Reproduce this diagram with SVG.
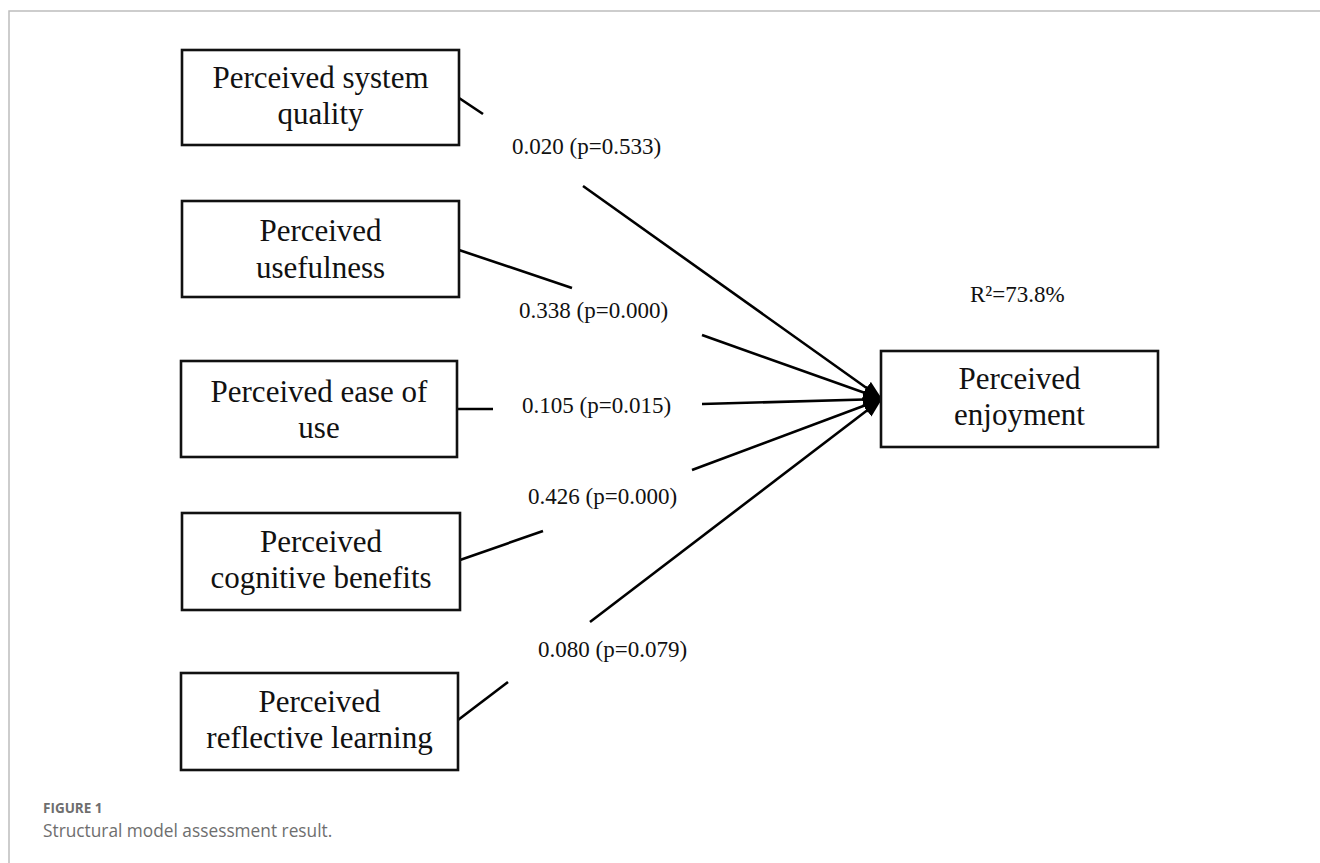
<svg xmlns="http://www.w3.org/2000/svg" width="1320" height="863" viewBox="0 0 1320 863">
<defs>
<marker id="ah" markerUnits="userSpaceOnUse" markerWidth="22" markerHeight="16" refX="19" refY="7.5" orient="auto">
<path d="M0,0 L19,7.5 L0,15 z" fill="#000"/>
</marker>
<style>
.box{fill:#fff;stroke:#111;stroke-width:2.6}
.lbl{font-family:"Liberation Serif","Times New Roman",serif;font-size:31px;fill:#111;text-anchor:middle}
.coef{font-family:"Liberation Serif","Times New Roman",serif;font-size:23px;fill:#111}
.ln{stroke:#000;stroke-width:2.6;fill:none}
.frame{stroke:#bdbdbd;stroke-width:1.5;fill:none}
.cap{font-family:"Open Sans","Liberation Sans",sans-serif;fill:#6e6e6e}
</style>
</defs>
<rect width="1320" height="863" fill="#fff"/>
<path class="frame" d="M9,863 V11 H1320"/>
<g id="connectors">
<line class="ln" x1="459" y1="98" x2="483" y2="114"/>
<line class="ln" x1="583" y1="186" x2="882" y2="399" marker-end="url(#ah)"/>
<line class="ln" x1="459" y1="250" x2="572" y2="288"/>
<line class="ln" x1="702" y1="335" x2="882" y2="399" marker-end="url(#ah)"/>
<line class="ln" x1="457" y1="409" x2="493" y2="409"/>
<line class="ln" x1="702" y1="404" x2="882" y2="399" marker-end="url(#ah)"/>
<line class="ln" x1="460" y1="560" x2="543" y2="531"/>
<line class="ln" x1="692" y1="470" x2="882" y2="399" marker-end="url(#ah)"/>
<line class="ln" x1="458" y1="720" x2="508" y2="682"/>
<line class="ln" x1="590" y1="622" x2="882" y2="399" marker-end="url(#ah)"/>
<text class="coef" x="512" y="154">0.020 (p=0.533)</text>
<text class="coef" x="519" y="318">0.338 (p=0.000)</text>
<text class="coef" x="522" y="413">0.105 (p=0.015)</text>
<text class="coef" x="528" y="504">0.426 (p=0.000)</text>
<text class="coef" x="538" y="657">0.080 (p=0.079)</text>
</g>
<g id="n1">
<rect class="box" x="182" y="50" width="277" height="95"/>
<text class="lbl" x="320.5" y="88">Perceived system</text>
<text class="lbl" x="320.5" y="124">quality</text>
</g>
<g id="n2">
<rect class="box" x="182" y="201" width="277" height="96"/>
<text class="lbl" x="320.5" y="241">Perceived</text>
<text class="lbl" x="320.5" y="278">usefulness</text>
</g>
<g id="n3">
<rect class="box" x="181" y="361" width="276" height="96"/>
<text class="lbl" x="319" y="402">Perceived ease of</text>
<text class="lbl" x="319" y="438">use</text>
</g>
<g id="n4">
<rect class="box" x="182" y="513" width="278" height="97"/>
<text class="lbl" x="321" y="552">Perceived</text>
<text class="lbl" x="321" y="588">cognitive benefits</text>
</g>
<g id="n5">
<rect class="box" x="181" y="673" width="277" height="97"/>
<text class="lbl" x="319.5" y="712">Perceived</text>
<text class="lbl" x="319.5" y="748">reflective learning</text>
</g>
<g id="target">
<rect class="box" x="881" y="351" width="277" height="96"/>
<text class="lbl" x="1019.5" y="389">Perceived</text>
<text class="lbl" x="1019.5" y="425">enjoyment</text>
<text class="coef" x="970" y="302">R²=73.8%</text>
</g>
<g id="caption">
<text class="cap" x="43" y="813" font-weight="700" font-size="13.5" fill="#7a7a7a">FIGURE 1</text>
<text class="cap" x="43" y="837" font-size="17.3">Structural model assessment result.</text>
</g>
</svg>
